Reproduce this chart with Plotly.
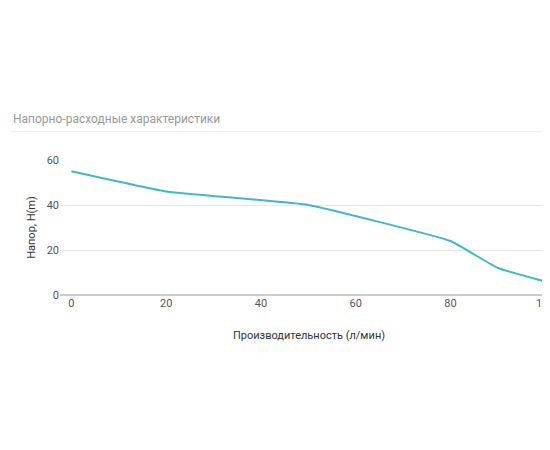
import plotly.graph_objects as go

flow = [0, 20, 50, 80, 90, 100]
head = [55, 46, 40, 24, 12, 6]
x_ticks = [0, 20, 40, 60, 80, 100]
y_ticks = [0, 20, 40, 60]

fig = go.Figure(go.Scatter(x=flow, y=head, mode="lines",
                           line=dict(color="#3fb8cc", width=2, shape="spline", smoothing=0.3),
                           hoverinfo="x+y"))
fig.update_layout(
    width=550, height=450, paper_bgcolor="white", plot_bgcolor="white",
    margin=dict(l=52, r=0, t=152, b=163, autoexpand=False),
    font=dict(family="Roboto, DejaVu Sans, sans-serif", color="#555", size=11),
    showlegend=False,
    shapes=[dict(type="line", xref="paper", yref="paper", x0=-0.1, x1=1.0, y0=1.21, y1=1.21,
                 line=dict(color="#eeeeee", width=1))],
    annotations=[dict(text="Напорно-расходные характеристики", xref="paper", yref="paper",
                      x=-0.098, y=1.24, xanchor="left", yanchor="bottom", showarrow=False,
                      font=dict(size=12, color="#999"))],
)
fig.update_xaxes(range=[-2.4, 102.7], tickvals=x_ticks, showgrid=False, zeroline=False,
                 showline=False, ticks="", tickfont=dict(color="#555"), automargin=False,
                 title=dict(text="Производительность (л/мин)", standoff=22, font=dict(size=11, color="#333")))
fig.update_yaxes(range=[0, 60], tickvals=y_ticks, showgrid=True, gridcolor="#e6e6e6",
                 zeroline=True, zerolinecolor="#cccccc", zerolinewidth=1.5, ticks="",
                 tickfont=dict(color="#555"), automargin=False,
                 title=dict(text="Напор, H(m)", standoff=8, font=dict(size=11, color="#333")))
fig.write_html("out.html")
